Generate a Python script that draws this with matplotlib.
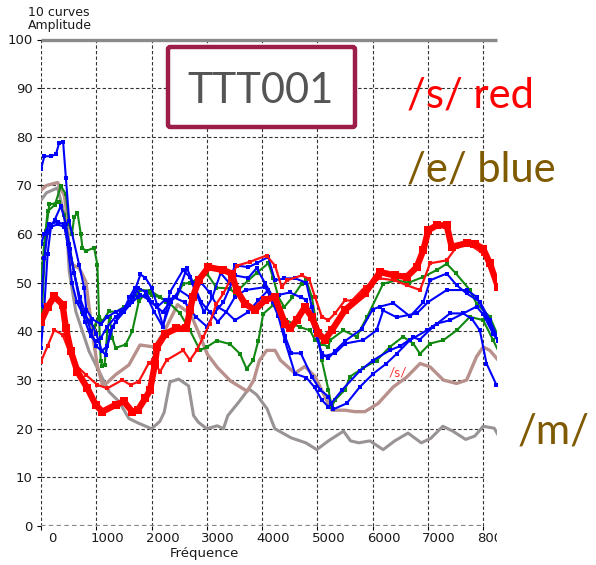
import numpy as np
import matplotlib.pyplot as plt
from matplotlib.patches import FancyBboxPatch
from matplotlib.transforms import Bbox, TransformedBbox, offset_copy

# (frequency, amplitude) knots, one list per curve
red_thick = [(0, 42), (120, 45), (240, 47.2), (390, 45.5), (450, 40.7), (540, 35.9), (660, 31.7),
             (840, 28.3), (990, 24.9), (1110, 23.5), (1350, 24.9), (1500, 25.6), (1650, 23.5),
             (1750, 23.8), (1890, 26.3), (1972, 27.9), (2063, 33.4), (2100, 36.8), (2250, 39.5),
             (2450, 40.6), (2630, 40.6), (2695, 44.3), (2750, 47.1), (2850, 50.5), (3030, 53.2),
             (3300, 52.6), (3450, 51.9), (3540, 48.5), (3690, 45.7), (3870, 44.4), (4050, 46.4),
             (4230, 47.1), (4415, 41.6), (4505, 40.6), (4625, 42.3), (4775, 45.0), (4895, 43),
             (5020, 39.6), (5135, 38.3), (5260, 40.2), (5500, 44.4), (5860, 47.8), (6133, 52.2),
             (6400, 51.5), (6616, 51.2), (6797, 53.2), (6917, 56.7), (7008, 60.8), (7160, 61.8),
             (7340, 61.8), (7430, 57.4), (7700, 58.1), (7850, 58), (8000, 57), (8120, 54), (8270, 49.1)]

red_thin = [(0, 33.8), (120, 37), (240, 40.3), (390, 39.3), (510, 35.9), (630, 33.1), (810, 31.1),
            (1020, 29), (1200, 28.3), (1470, 30), (1620, 29), (1770, 29.7), (1950, 33.5), (2032, 34.1),
            (2153, 31.7), (2273, 34.1), (2574, 36.1), (2695, 34.1), (2815, 36.1), (2935, 38.8),
            (3050, 41.6), (3175, 45.7), (3300, 47.8), (3420, 50.5), (3540, 53.5), (3780, 54.3),
            (4080, 55.6), (4235, 53.5), (4355, 49.1), (4450, 50.5), (4715, 51.5), (4850, 50.8),
            (4957, 47.1), (5080, 43), (5200, 42.3), (5320, 43.7), (5500, 46.4), (5620, 46.3),
            (5860, 49.1), (6133, 50.9), (6400, 50.5), (6616, 49.5), (6858, 48.5), (7039, 54),
            (7340, 54.6), (7520, 57.4), (7600, 58), (7800, 57.5), (8000, 56), (8250, 49.5)]

blue_1 = [(0, 73.3), (60, 76), (180, 76), (270, 76.4), (330, 78.8), (400, 79), (450, 71.6), (510, 62.7),
          (690, 53.7), (780, 49), (820, 44.5), (930, 42.5), (1080, 41.5), (1200, 43), (1350, 44),
          (1530, 45), (1650, 47), (1800, 51.7), (1890, 51), (2000, 49), (2100, 45.5), (2210, 41),
          (2330, 48), (2570, 52.6), (2690, 51.2), (2800, 48), (2950, 44), (3100, 47), (3250, 52),
          (3400, 50), (3510, 53.6), (3750, 53.2), (3900, 54), (4110, 55.3), (4230, 50.5), (4405, 50.9),
          (4600, 50.9), (4800, 50), (4900, 45), (4990, 39.5), (5080, 34.8), (5320, 35.5), (5500, 37.5),
          (5830, 38.2), (6070, 40.2), (6190, 44.3), (6435, 42.9), (6800, 43.7), (7000, 46),
          (7340, 48.5), (7700, 48.5), (7880, 47.1), (8060, 43), (8270, 38)]

blue_2 = [(0, 45.5), (60, 55), (120, 60.5), (250, 63), (360, 65.8), (450, 62), (520, 57), (600, 52),
          (700, 47), (800, 44), (900, 40), (1000, 37), (1170, 35.2), (1250, 40), (1350, 42), (1500, 44),
          (1650, 46), (1750, 49), (1900, 48), (2000, 46), (2200, 44), (2400, 47), (2600, 46), (2800, 43),
          (3000, 41), (3150, 44), (3300, 46), (3510, 51.5), (3750, 51), (3900, 53), (4050, 50),
          (4294, 45.1), (4415, 39), (4530, 35.5), (4700, 35.5), (4900, 30.7), (5050, 28), (5200, 26.6),
          (5290, 24), (5530, 25.2), (5770, 28.6), (6010, 31.3), (6250, 33.4), (6435, 35.4), (6675, 38.2),
          (6977, 40.2), (7158, 41.6), (7400, 42.3), (7640, 43.7), (7800, 42.5), (7940, 40.2),
          (8060, 33.4), (8240, 29)]

blue_3 = [(0, 36.6), (60, 45), (120, 56), (180, 61.5), (300, 62), (420, 61.5), (500, 58), (600, 52),
          (700, 46), (800, 42), (900, 39), (1000, 38), (1080, 38.6), (1200, 41), (1350, 43), (1500, 44.5),
          (1600, 47), (1700, 49), (1800, 47.5), (1950, 46.5), (2100, 45), (2250, 46.5), (2450, 47),
          (2640, 53), (2750, 50), (2900, 46), (3050, 44), (3200, 42), (3350, 44), (3510, 47.1),
          (3700, 48.5), (4055, 49.1), (4150, 47.1), (4294, 43.1), (4415, 38), (4595, 31.3), (4800, 30.5),
          (4950, 28.5), (5080, 25.9), (5200, 24.5), (5250, 25.2), (5450, 28), (5770, 31.9), (6000, 34),
          (6310, 36.1), (6500, 37), (6735, 38.8), (6850, 38.3), (7100, 41), (7400, 43.7), (7640, 43.7),
          (7880, 45.1), (8000, 43.5), (8180, 39.5), (8300, 37.5)]

blue_4 = [(0, 58), (60, 60), (150, 62), (300, 62.5), (420, 62), (480, 58), (560, 50), (650, 46),
          (760, 43.5), (900, 42), (1000, 39.5), (1100, 36), (1200, 37), (1300, 41), (1450, 44),
          (1600, 45.5), (1750, 47), (1900, 47.5), (2050, 44), (2200, 41), (2350, 46), (2500, 48.5),
          (2700, 47), (2900, 50), (3050, 48), (3200, 45), (3350, 44), (3510, 42.3), (3750, 44),
          (3932, 46.4), (4113, 48.5), (4200, 46), (4300, 47.5), (4500, 48), (4700, 47), (4800, 46.5),
          (4950, 40), (5080, 35.5), (5200, 34.5), (5320, 36), (5500, 38), (5800, 40.5), (6000, 44.5),
          (6133, 45.1), (6375, 45.8), (6676, 43.1), (6917, 46), (7040, 50.5), (7340, 51.9), (7520, 49.5),
          (7700, 47.8), (7940, 46.1), (8120, 42.3), (8270, 38.5)]

green_1 = [(0, 51), (60, 58), (120, 64.7), (250, 66), (360, 69.9), (450, 68.2), (510, 62), (560, 60),
           (600, 63.5), (660, 64.4), (720, 60), (750, 57.2), (810, 56.5), (960, 57.2), (1020, 53.7),
           (1050, 43), (1080, 34), (1110, 32.8), (1150, 33), (1200, 40), (1240, 43), (1290, 38.6),
           (1350, 36.6), (1530, 37.3), (1650, 40), (1770, 46.2), (1900, 48), (2000, 47.5), (2150, 47),
           (2333, 45.7), (2515, 43.7), (2695, 40.2), (2877, 36.1), (3000, 36.8), (3180, 38.1),
           (3420, 37.4), (3600, 35.4), (3720, 32.3), (3840, 34.1), (3932, 38.1), (4020, 43.6),
           (4200, 45.4), (4440, 42.3), (4680, 40.9), (4870, 40.2), (4957, 38.2), (5080, 37.5),
           (5200, 36.8), (5230, 38.2), (5470, 40.2), (5710, 38.9), (5900, 43), (6190, 49.8),
           (6435, 50.5), (6650, 50), (6917, 51.2), (7158, 52.6), (7340, 53.9), (7500, 52), (7760, 48.5),
           (7880, 45.7), (8120, 43), (8300, 38.2)]

green_2 = [(0, 40), (90, 60.6), (150, 66.1), (330, 66.5), (420, 64), (510, 58), (600, 52), (700, 47),
           (750, 44), (850, 42), (960, 41), (1050, 43), (1110, 42.1), (1230, 44.1), (1350, 44),
           (1500, 45), (1650, 46.5), (1800, 48.5), (1972, 48.4), (2150, 47.1), (2270, 46.1), (2450, 47),
           (2570, 49.8), (2700, 50), (3000, 51.9), (3175, 49), (3420, 48.8), (3510, 47.8), (3750, 50.5),
           (3900, 52), (4113, 54), (4200, 51), (4294, 47.1), (4400, 45), (4550, 47), (4715, 49.8),
           (4800, 50.5), (4900, 47.1), (4990, 41), (5080, 34.1), (5200, 28), (5260, 24.5), (5320, 25.9),
           (5500, 28), (5590, 30.7), (5830, 32.5), (6070, 34), (6310, 36.8), (6550, 38.9), (6735, 37.5),
           (6857, 35.4), (7038, 37.5), (7280, 38.2), (7520, 40.2), (7760, 43), (8000, 42.3),
           (8180, 38.2), (8300, 35.4)]

rosy = [(0, 69), (100, 70), (300, 70.6), (420, 68), (480, 63.4), (510, 54.4), (570, 53.7), (690, 53),
        (810, 50.3), (870, 45), (950, 38), (1020, 33), (1110, 29), (1200, 29.5), (1350, 31.1),
        (1590, 33.1), (1791, 37.2), (2050, 36.8), (2230, 40), (2470, 45.5), (2710, 43.5), (2890, 38.7),
        (3010, 35.3), (3190, 32.6), (3430, 29.8), (3730, 27.7), (3850, 30), (3950, 34), (4083, 36.1),
        (4235, 36.1), (4330, 34.1), (4595, 31.4), (4775, 32.8), (4960, 30.7), (5140, 26.5), (5260, 23.8),
        (5500, 23.8), (5680, 23.5), (5860, 23.5), (6100, 25.2), (6375, 28.6), (6616, 30.6), (6858, 33.4),
        (7040, 32.7), (7280, 30), (7520, 29.3), (7700, 30), (7880, 34.8), (8000, 36.8), (8120, 36.1),
        (8270, 34.1)]

gray = [(0, 67), (100, 68.5), (300, 69.5), (420, 64), (480, 58.6), (510, 52.4), (570, 48.2), (630, 44.1),
        (750, 40), (870, 35.9), (1050, 31.8), (1230, 27.6), (1410, 25.6), (1590, 22.1), (1770, 21.1),
        (2000, 20), (2150, 21.5), (2230, 23.4), (2333, 29.6), (2490, 30.2), (2670, 28.8), (2760, 22.7),
        (2850, 21.3), (3000, 20), (3190, 20.6), (3300, 20), (3380, 22.7), (3580, 25.5), (3760, 28.2),
        (3900, 27), (4090, 24.1), (4230, 20), (4530, 18.1), (4790, 17.1), (4990, 15.7), (5200, 17.5),
        (5473, 19.5), (5600, 17.5), (5750, 17.1), (5950, 17.5), (6190, 15.7), (6400, 17.5), (6640, 19.1),
        (6880, 17.1), (7050, 18), (7270, 20.5), (7450, 19.5), (7683, 17.8), (7850, 18.5), (8000, 20.5),
        (8200, 20.1), (8300, 18.1)]

x_ticks = list(range(0, 8001, 1000))
y_ticks = list(range(0, 101, 10))

W, H = 596, 565
fig = plt.figure(figsize=(W / 100, H / 100), dpi=100)
ax = fig.add_axes([41 / W, 1 - 526 / H, 456 / W, (526 - 39.5) / H])
ax.set_xlim(0, 8250)
ax.set_ylim(0, 100)
for s in ax.spines.values():
    s.set_visible(False)

# grid as in the original tool: dashed, stopping at 8000
dash = (0, (3, 2))
ax.hlines(y_ticks[1:-1], 0, 8000, colors="#333333", linestyles=dash, lw=0.8, zorder=1)
ax.vlines(x_ticks, 0, 100, colors="#333333", linestyles=dash, lw=0.8, zorder=1)
ax.hlines(0, 0, 8000, colors="#888888", linestyles=(0, (2, 1.5)), lw=1.6, zorder=1)
ax.hlines(100, 0, 8250, colors="#8a8a8a", lw=2.4, zorder=1, clip_on=False)

def draw(pts, color, lw, marker=None, ms=0, z=2):
    f, a = np.array(pts).T
    ax.plot(f, a, color=color, lw=lw, marker=marker, ms=ms, mew=0, zorder=z)

draw(gray, "#999393", 2.2, z=2)
draw(rosy, "#b8918c", 2.4, z=2)
draw(green_1, "#118811", 1.5, "s", 2.6, z=3)
draw(green_2, "#118811", 1.5, "s", 2.6, z=3)
draw(blue_1, "#0000ff", 1.5, "s", 2.6, z=4)
draw(blue_2, "#0000ff", 1.5, "s", 2.6, z=4)
draw(blue_3, "#0000ff", 1.5, "s", 2.6, z=4)
draw(blue_4, "#0000ff", 1.5, "s", 2.6, z=4)
draw(red_thin, "#ff1111", 1.6, "s", 2.8, z=5)
draw(red_thick, "#ff0000", 4.6, "s", 5.5, z=6)

ax.text(6450, 31.5, "/s/", color="#ff3030", fontsize=10, family="Lato",
        ha="center", va="center", zorder=7)

# axis ticks and labels
ax.set_yticks(y_ticks)
ax.set_xticks(x_ticks)
ax.set_xticklabels([])
ax.tick_params(axis="y", length=3, width=0.8, pad=3, labelsize=9.5, labelcolor="#1a1a1a")
ax.tick_params(axis="x", length=3, width=0.8)
clip = TransformedBbox(Bbox([[0, 0], [497 / W, 1]]), fig.transFigure)
lab_tr = offset_copy(ax.transData, fig=fig, x=11, y=-12, units="dots")
for v in x_ticks:
    t = ax.text(v, 0, str(v), transform=lab_tr, ha="center", va="center",
                fontsize=9.5, color="#1a1a1a", clip_on=True)
    t.set_clip_box(clip)
    t.set_clip_path(None)

fig.text(204 / W, 1 - 553 / H, "Fréquence", ha="center", va="center", fontsize=9.5,
         color="#1a1a1a", zorder=10, bbox=dict(fc="white", ec="none", pad=0.6))
fig.text(28 / W, 1 - 12 / H, "10 curves", ha="left", va="center", fontsize=9, color="#1a1a1a")
fig.text(28 / W, 1 - 26 / H, "Amplitude", ha="left", va="center", fontsize=9, color="#1a1a1a")

# annotation box and labels
box = FancyBboxPatch((168 / W, 1 - 127 / H), (355 - 168) / W, 80 / H,
                     boxstyle="round,pad=0,rounding_size=0.004", transform=fig.transFigure,
                     fc="white", ec="#9c1c4a", lw=3.2, zorder=8)
fig.add_artist(box)
fig.text(261 / W, 1 - 103 / H, "TTT001", ha="center", va="baseline", fontsize=30,
         family="Lato", color="#555555", zorder=9)
fig.text(407 / W, 1 - 107 / H, "/s/ red", ha="left", va="baseline", fontsize=30,
         family="Lato", color="#ff0000", zorder=9)
fig.text(407 / W, 1 - 182 / H, "/e/ blue", ha="left", va="baseline", fontsize=30,
         family="Lato", color="#7f5a00", zorder=9)
fig.text(518 / W, 1 - 443 / H, "/m/", ha="left", va="baseline", fontsize=30,
         family="Lato", color="#7f5a00", zorder=9)

fig.savefig("out.png", dpi=100)
